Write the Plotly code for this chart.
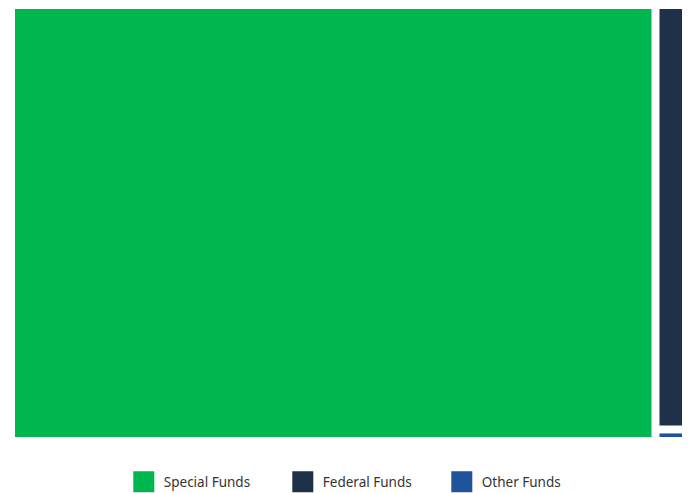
import plotly.graph_objects as go

# Fund sources and their shares of the total
labels = ["Special Funds", "Federal Funds", "Other Funds"]
values = [95.5, 4.4, 0.12]
colors = ["#00B64F", "#1F3149", "#1F539C"]

fig = go.Figure()

fig.add_trace(go.Treemap(
    labels=labels,
    parents=[""] * len(labels),
    values=values,
    sort=False,
    marker=dict(colors=colors, line=dict(width=0), pad=dict(t=0, l=0, r=0, b=0)),
    tiling=dict(packing="squarify", pad=8),
    textinfo="none",
    hoverinfo="label+value",
    pathbar=dict(visible=False),
    root=dict(color="rgba(0,0,0,0)"),
))

# Legend entries for each fund source
for name, c in zip(labels, colors):
    fig.add_trace(go.Scatter(
        x=[None], y=[None], mode="markers", name=name,
        marker=dict(symbol="square", size=16, color=c, line=dict(width=6, color=c)),
        showlegend=True,
    ))

fig.update_layout(
    width=694, height=493,
    margin=dict(l=15, r=12, t=9, b=56, autoexpand=False),
    paper_bgcolor="white",
    plot_bgcolor="white",
    xaxis=dict(visible=False),
    yaxis=dict(visible=False),
    font=dict(family="Noto Sans, Open Sans, sans-serif", size=13.5, color="#333333"),
    legend=dict(
        orientation="h",
        x=0.5207, xanchor="center", xref="paper",
        y=-0.105, yanchor="middle", yref="paper",
        itemsizing="trace",
        entrywidth=114,
        font=dict(size=13.5, color="#333333"),
    ),
)

fig.write_html("out.html")
